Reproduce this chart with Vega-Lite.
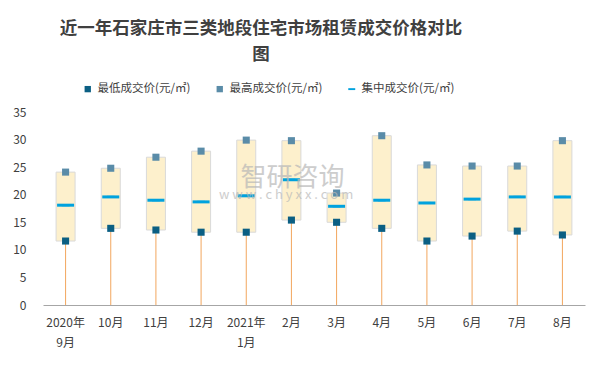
{
  "$schema": "https://vega.github.io/schema/vega-lite/v6.json",
  "autosize": {"type": "none"},
  "width": 542,
  "height": 193,
  "padding": {"left": 43, "top": 112, "right": 20, "bottom": 62},
  "background": "white",
  "title": {
    "text": ["近一年石家庄市三类地段住宅市场租赁成交价格对比", "图"],
    "font": "Noto Sans CJK SC",
    "fontSize": 17.5,
    "fontWeight": "bold",
    "color": "#404040",
    "anchor": "middle",
    "dx": -53,
    "offset": 20,
    "lineHeight": 26
  },
  "config": {
    "view": {"stroke": null},
    "font": "Noto Sans CJK SC",
    "axis": {"labelFont": "Noto Sans CJK SC", "labelColor": "#404040", "labelFontSize": 12, "grid": false, "title": null},
    "axisY": {"labelOverlap": false, "domain": false, "ticks": false, "labelPadding": 17},
    "legend": {"labelFont": "Noto Sans CJK SC"}
  },
  "data": {
    "values": [
      {"month": "2020年9月", "low": 11.6, "high": 24.1, "mid": 18.1},
      {"month": "10月", "low": 13.9, "high": 24.8, "mid": 19.6},
      {"month": "11月", "low": 13.6, "high": 26.8, "mid": 19.0},
      {"month": "12月", "low": 13.2, "high": 27.9, "mid": 18.7},
      {"month": "2021年1月", "low": 13.2, "high": 29.9, "mid": 19.8},
      {"month": "2月", "low": 15.4, "high": 29.8, "mid": 22.7},
      {"month": "3月", "low": 15.0, "high": 20.3, "mid": 17.9},
      {"month": "4月", "low": 13.9, "high": 30.7, "mid": 19.0},
      {"month": "5月", "low": 11.6, "high": 25.4, "mid": 18.5},
      {"month": "6月", "low": 12.5, "high": 25.2, "mid": 19.2},
      {"month": "7月", "low": 13.4, "high": 25.2, "mid": 19.6},
      {"month": "8月", "low": 12.7, "high": 29.8, "mid": 19.6}
    ]
  },
  "encoding": {
    "x": {
      "field": "month", "type": "nominal", "sort": null,
      "scale": {"paddingInner": 0, "paddingOuter": 0},
      "axis": {
        "labelAngle": 0, "domainColor": "#A6A6A6", "ticks": false, "labelPadding": 12,
        "labelLineHeight": 20,
        "labelExpr": "datum.value == '2020年9月' ? ['2020年','9月'] : datum.value == '2021年1月' ? ['2021年','1月'] : datum.value"
      }
    }
  },
  "layer": [
    {
      "mark": {"type": "rule", "color": "#F2A65E", "strokeWidth": 1},
      "encoding": {
        "y": {"field": "low", "type": "quantitative", "scale": {"domain": [0, 35], "nice": false},
          "axis": {"values": [0, 5, 10, 15, 20, 25, 30, 35], "labelOverlap": false}},
        "y2": {"datum": 0}
      }
    },
    {
      "mark": {"type": "bar", "size": 19, "fill": "#FDF0CC", "stroke": "#D9D9D9", "strokeWidth": 1},
      "encoding": {
        "y": {"field": "low", "type": "quantitative", "axis": {"values": [0, 5, 10, 15, 20, 25, 30, 35], "labelOverlap": false}},
        "y2": {"field": "high"}
      }
    },
    {
      "transform": [{"fold": ["low", "high", "mid"], "as": ["series", "value"]}],
      "mark": {"type": "point", "filled": true, "opacity": 1, "size": 50},
      "encoding": {
        "y": {"field": "value", "type": "quantitative", "axis": {"values": [0, 5, 10, 15, 20, 25, 30, 35], "labelOverlap": false}},
        "color": {
          "field": "series", "type": "nominal",
          "scale": {"domain": ["low", "high", "mid"], "range": ["#0B5F83", "#5A8CA8", "#00A2DE"]},
          "legend": {
            "orient": "none", "direction": "horizontal", "legendX": 39, "legendY": -29,
            "title": null, "labelFontSize": 11.5, "labelColor": "#404040", "columnPadding": 23,
            "symbolSize": 40, "symbolOpacity": 1,
            "labelExpr": "datum.value == 'low' ? '最低成交价(元/㎡)' : datum.value == 'high' ? '最高成交价(元/㎡)' : '集中成交价(元/㎡)'"
          }
        },
        "shape": {
          "field": "series", "type": "nominal",
          "scale": {"domain": ["low", "high", "mid"], "range": ["square", "square", "M-1.1,-0.3H1.1V0.3H-1.1Z"]},
          "legend": null
        }
      }
    },
    {
      "mark": {"type": "tick", "color": "#00A2DE", "size": 17, "thickness": 3, "opacity": 1, "orient": "horizontal"},
      "encoding": {
        "y": {"field": "mid", "type": "quantitative", "axis": {"values": [0, 5, 10, 15, 20, 25, 30, 35], "labelOverlap": false}}
      }
    },
    {
      "data": {"values": [
        {"month": "2月", "v": 23.1, "t": "智研咨询", "k": "a"},
        {"month": "2月", "v": 19.9, "t": "w w w . c h y x x . c o m", "k": "b"}
      ]},
      "mark": {"type": "text", "color": "#B8B8B8", "opacity": 0.7},
      "encoding": {
        "y": {"field": "v", "type": "quantitative", "axis": {"values": [0, 5, 10, 15, 20, 25, 30, 35], "labelOverlap": false}},
        "text": {"field": "t"},
        "size": {"field": "k", "type": "nominal", "scale": {"domain": ["a", "b"], "range": [26, 13]}, "legend": null},
        "xOffset": {"field": "k", "type": "nominal", "scale": {"domain": ["a", "b"], "range": [27, 14]}}
      }
    }
  ]
}
